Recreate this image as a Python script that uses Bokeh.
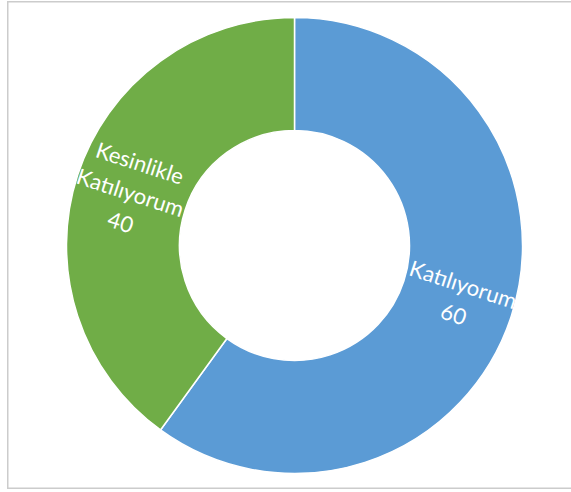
import numpy as np
from bokeh.plotting import figure
from bokeh.models import Range1d, ColumnDataSource
from bokeh.core.properties import value
from bokeh.embed import file_html
from bokeh.resources import INLINE

categories = ["Katılıyorum", "Kesinlikle\nKatılıyorum"]
values = [60, 40]
colors = ["#5B9BD5", "#70AD47"]

W, H = 566, 488
p = figure(width=W, height=H, output_backend="svg", toolbar_location=None,
           x_range=Range1d(0, W), y_range=Range1d(0, H), min_border=0,
           styles={"margin-top": "1px", "margin-left": "7px"})
p.axis.visible = False
p.grid.visible = False
p.background_fill_color = "white"
p.border_fill_color = "white"
p.outline_line_color = "#CCCCCC"
p.outline_line_width = 2

cx, cy = 287, H - 244
r_out, r_in = 228, 115

vals = np.array(values, dtype=float)
frac = vals / vals.sum()
cum = np.concatenate([[0], np.cumsum(frac)])
start_top = np.pi / 2
ends = start_top - cum[:-1] * 2 * np.pi
starts = start_top - cum[1:] * 2 * np.pi
mids = (starts + ends) / 2

src = ColumnDataSource(dict(start=starts, end=ends, color=colors))
p.annular_wedge(x=cx, y=cy, inner_radius=r_in, outer_radius=r_out,
                start_angle="start", end_angle="end", fill_color="color",
                line_color="white", line_width=1.5, source=src)

r_lab = (r_in + r_out) / 2 + 1
lx = cx + r_lab * np.cos(mids)
ly = cy + r_lab * np.sin(mids)
ang = []
for m in mids:
    a = m
    while a > np.pi / 2:
        a -= np.pi
    while a < -np.pi / 2:
        a += np.pi
    ang.append(a)
labels = [f"{c}\n{v}" for c, v in zip(categories, values)]
lsrc = ColumnDataSource(dict(x=lx, y=ly, t=labels, a=ang))
p.text(x="x", y="y", text="t", angle="a", source=lsrc, text_color="white",
       text_font=value("Lato"), text_font_size="22px", text_align="center",
       text_baseline="middle", text_line_height=1.15)

open("out.html", "w").write(file_html(p, INLINE))
